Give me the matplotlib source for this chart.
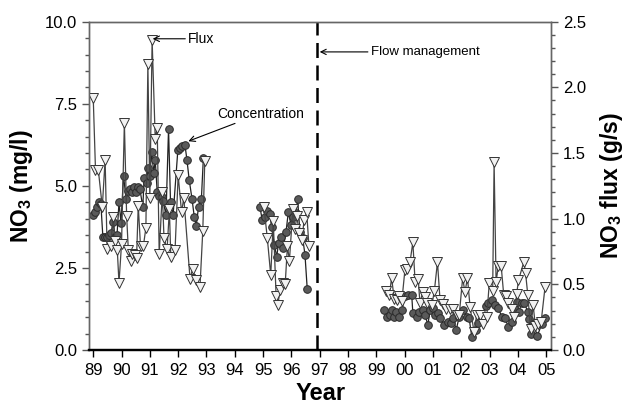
import matplotlib
matplotlib.use('Agg')
import matplotlib.pyplot as plt
from matplotlib.ticker import MultipleLocator, FuncFormatter

plt.rcParams['font.family'] = ['Liberation Sans', 'DejaVu Sans']
plt.rcParams['mathtext.fontset'] = 'custom'
plt.rcParams['mathtext.rm'] = 'Liberation Sans'
plt.rcParams['mathtext.bf'] = 'Liberation Sans:bold'

# concentration (mg/l), left axis
conc_yr_1 = [1988.98, 1989.06, 1989.15, 1989.22, 1989.27, 1989.34, 1989.41, 1989.48, 1989.55, 1989.63,
             1989.70, 1989.77, 1989.84, 1989.91, 1989.98, 1990.07, 1990.16, 1990.23, 1990.30, 1990.37,
             1990.44, 1990.51, 1990.58, 1990.65, 1990.75, 1990.80, 1990.89, 1990.93, 1991.00, 1991.06,
             1991.14, 1991.19, 1991.26, 1991.31, 1991.42, 1991.47, 1991.57, 1991.66, 1991.73, 1991.82,
             1991.99, 1992.06, 1992.15, 1992.24, 1992.31, 1992.39, 1992.49, 1992.57, 1992.64, 1992.72,
             1992.82, 1992.89]
conc_1 = [4.12, 4.2, 4.35, 4.5, 4.45, 3.45, 3.45, 3.45, 3.5, 3.55,
          3.9, 3.45, 3.5, 4.5, 3.88, 5.31, 4.6, 4.85, 4.9, 4.8,
          4.95, 4.8, 4.95, 4.9, 4.35, 5.23, 5.1, 5.55, 5.3, 6.03,
          5.4, 5.8, 4.8, 4.7, 4.65, 4.55, 4.1, 6.74, 4.5, 4.1,
          6.1, 6.15, 6.2, 6.25, 5.79, 5.18, 4.6, 4.05, 3.79, 4.37,
          4.6, 5.84]
conc_yr_2 = [1994.89, 1994.97, 1995.07, 1995.15, 1995.24, 1995.30, 1995.40, 1995.48, 1995.55, 1995.63,
             1995.71, 1995.81, 1995.89, 1995.99, 1996.07, 1996.16, 1996.22, 1996.30, 1996.40, 1996.48,
             1996.56]
conc_2 = [4.35, 3.96, 4.06, 4.22, 4.14, 3.74, 3.2, 2.84, 3.27, 3.44,
          3.1, 3.6, 4.19, 3.81, 4.06, 4.17, 4.6, 3.6, 3.4, 2.9,
          1.85]
conc_yr_3 = [1999.28, 1999.37, 1999.48, 1999.54, 1999.63, 1999.70, 1999.81, 1999.90, 2000.01, 2000.13,
             2000.25, 2000.29, 2000.43, 2000.52, 2000.64, 2000.72, 2000.82, 2000.90, 2001.01, 2001.07,
             2001.19, 2001.25, 2001.39, 2001.54, 2001.63, 2001.72, 2001.82, 2001.93, 2002.07, 2002.19,
             2002.28, 2002.37, 2002.52, 2002.60, 2002.88, 2002.96, 2003.08, 2003.19, 2003.31, 2003.43,
             2003.55, 2003.66, 2003.78, 2003.87, 2003.96, 2004.04, 2004.13, 2004.23, 2004.35, 2004.41,
             2004.47, 2004.54, 2004.69, 2004.84, 2004.96]
conc_3 = [1.22, 1.02, 1.07, 1.22, 1.02, 1.16, 1.02, 1.22, 1.63, 1.68,
          1.68, 1.12, 1.02, 1.16, 1.22, 1.07, 0.76, 1.22, 1.27, 1.07,
          1.12, 0.99, 0.76, 0.86, 0.81, 0.96, 0.61, 1.02, 1.22, 1.0,
          0.96, 0.41, 0.61, 0.81, 1.34, 1.42, 1.52, 1.37, 1.27, 1.02,
          0.96, 0.71, 0.86, 1.27, 1.47, 1.17, 1.43, 1.42, 1.17, 0.95,
          0.49, 0.8, 0.44, 0.78, 0.99]

# flux (g/s), right axis
flux_yr_1 = [1989.00, 1989.08, 1989.18, 1989.32, 1989.42, 1989.49, 1989.61, 1989.71, 1989.77, 1989.85,
             1989.91, 1990.00, 1990.10, 1990.18, 1990.24, 1990.32, 1990.37, 1990.46, 1990.53, 1990.59,
             1990.67, 1990.77, 1990.86, 1990.93, 1991.00, 1991.08, 1991.19, 1991.26, 1991.33, 1991.44,
             1991.50, 1991.61, 1991.69, 1991.74, 1991.89, 1992.00, 1992.12, 1992.20, 1992.42, 1992.51,
             1992.62, 1992.77, 1992.87, 1992.94]
flux_1 = [1.92, 1.37, 1.37, 1.09, 1.45, 0.77, 0.79, 1.01, 0.83, 0.76,
          0.51, 0.81, 1.73, 1.02, 0.76, 0.68, 0.73, 0.72, 0.70, 1.10,
          0.79, 0.79, 0.93, 2.18, 1.16, 2.36, 1.61, 1.69, 0.73, 1.2,
          0.85, 0.77, 1.07, 0.71, 0.76, 1.33, 1.05, 1.16, 0.54, 0.62,
          0.53, 0.48, 0.91, 1.44]
flux_yr_2 = [1995.03, 1995.15, 1995.27, 1995.36, 1995.46, 1995.52, 1995.60, 1995.71, 1995.78, 1995.86,
             1995.93, 1996.05, 1996.13, 1996.19, 1996.28, 1996.37, 1996.45, 1996.54, 1996.62]
flux_2 = [1.09, 0.85, 0.57, 0.98, 0.41, 0.34, 0.46, 0.51, 0.50, 0.79,
          0.68, 1.07, 0.92, 1.02, 0.89, 0.84, 0.99, 1.05, 0.79]
flux_yr_3 = [1999.34, 1999.46, 1999.54, 1999.63, 1999.72, 1999.81, 1999.90, 2000.01, 2000.10, 2000.19,
             2000.29, 2000.37, 2000.48, 2000.54, 2000.64, 2000.72, 2000.80, 2000.96, 2001.05, 2001.16,
             2001.25, 2001.37, 2001.46, 2001.60, 2001.72, 2001.86, 2001.93, 2002.05, 2002.13, 2002.22,
             2002.31, 2002.45, 2002.55, 2002.66, 2002.78, 2002.90, 2002.99, 2003.11, 2003.16, 2003.23,
             2003.31, 2003.41, 2003.50, 2003.58, 2003.66, 2003.78, 2003.88, 2003.96, 2004.02, 2004.21,
             2004.27, 2004.35, 2004.45, 2004.54, 2004.62, 2004.71, 2004.82, 2004.96]
flux_3 = [0.45, 0.42, 0.55, 0.39, 0.38, 0.41, 0.37, 0.61, 0.62, 0.67,
          0.82, 0.52, 0.54, 0.36, 0.44, 0.40, 0.36, 0.34, 0.45, 0.67,
          0.38, 0.35, 0.31, 0.31, 0.31, 0.27, 0.27, 0.55, 0.44, 0.55,
          0.33, 0.14, 0.27, 0.27, 0.20, 0.25, 0.51, 0.45, 1.43, 0.52,
          0.64, 0.64, 0.42, 0.41, 0.36, 0.31, 0.25, 0.43, 0.53, 0.67,
          0.59, 0.42, 0.16, 0.34, 0.18, 0.20, 0.21, 0.48]

flow_management_year = 1996.92
year_ticks = list(range(1989, 2006))

fig = plt.figure(figsize=(6.3, 4.15), dpi=100)
ax = fig.add_axes([0.1417, 0.1566, 0.7329, 0.7911])
ax2 = ax.twinx()

for yr, c in [(conc_yr_1, conc_1), (conc_yr_2, conc_2), (conc_yr_3, conc_3)]:
    ax.plot(yr, c, '-', color='#222222', lw=0.9, marker='o', ms=5.5,
            mfc='#5a5a5a', mec='#2a2a2a', mew=0.7, zorder=2)
for yr, f in [(flux_yr_1, flux_1), (flux_yr_2, flux_2), (flux_yr_3, flux_3)]:
    ax2.plot(yr, f, '-', color='#444444', lw=0.9, marker='v', ms=7,
             mfc='#f2f2f2', mec='#333333', mew=0.7, zorder=2)

ax.axvline(flow_management_year, color='black', lw=1.8, ls=(0, (6, 3)), zorder=1)

ax.set_xlim(1988.86, 2005.17)
ax.set_ylim(0, 10)
ax2.set_ylim(0, 2.5)

ax.set_xticks(year_ticks)
ax.xaxis.set_major_formatter(FuncFormatter(lambda v, p: '%02d' % (int(round(v)) % 100)))
ax.yaxis.set_major_locator(MultipleLocator(2.5))
ax.yaxis.set_minor_locator(MultipleLocator(0.5))
ax.yaxis.set_major_formatter(FuncFormatter(lambda v, p: '%.1f' % v))
ax2.yaxis.set_major_locator(MultipleLocator(0.5))
ax2.yaxis.set_minor_locator(MultipleLocator(0.1))
ax2.yaxis.set_major_formatter(FuncFormatter(lambda v, p: '%.1f' % v))

for a in (ax, ax2):
    a.tick_params(axis='both', which='major', direction='out', length=5, width=1, labelsize=12, colors='#555555', labelcolor='black')
    a.tick_params(axis='both', which='minor', direction='out', length=3, width=1, colors='#555555')
    for s in a.spines.values():
        s.set_color('#666666')
        s.set_linewidth(1.0)
ax.tick_params(axis='x', colors='black', pad=4)
ax.spines['bottom'].set_color('black')
ax.spines['bottom'].set_linewidth(1.6)
ax2.spines['bottom'].set_color('black')
ax2.spines['bottom'].set_linewidth(1.6)

ax.set_xlabel('Year', fontsize=17, fontweight='bold', labelpad=3)
ax.set_ylabel(r'NO$_\mathbf{3}$ (mg/l)', fontsize=16.5, fontweight='bold', labelpad=7)
ax2.set_ylabel(r'NO$_\mathbf{3}$ flux (g/s)', fontsize=16.5, fontweight='bold', labelpad=9)

arrow = dict(arrowstyle='->', color='black', lw=0.8, shrinkA=0, shrinkB=0)
ax2.annotate('Flux', xy=(1991.1, 2.37), xytext=(1992.35, 2.37), fontsize=10,
             va='center', ha='left', arrowprops=arrow)
ax2.annotate('Concentration', xy=(1992.36, 1.59), xytext=(1993.38, 1.80), fontsize=10,
             va='center', ha='left', arrowprops=arrow)
ax2.annotate('Flow management', xy=(1997.0, 2.27), xytext=(1998.8, 2.27), fontsize=9.5,
             va='center', ha='left', arrowprops=arrow)

fig.savefig('out.png', dpi=100)
